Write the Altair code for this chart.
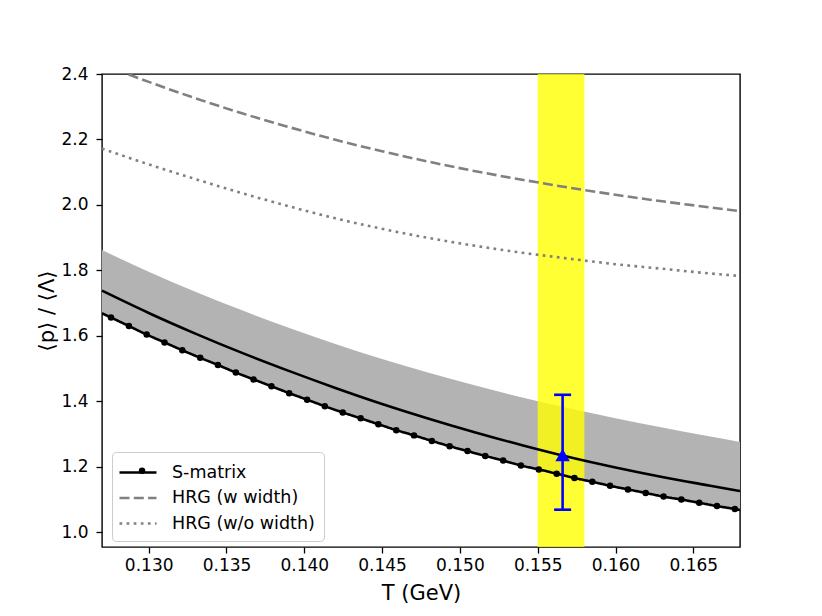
import altair as alt
import pandas as pd

# ---------------- data ----------------
T_grid = [0.127, 0.130, 0.133, 0.136, 0.139, 0.142, 0.145, 0.148,
          0.151, 0.154, 0.157, 0.160, 0.163, 0.166, 0.168]
hrg_w = [2.430, 2.376, 2.326, 2.280, 2.238, 2.199, 2.164, 2.132,
         2.103, 2.077, 2.053, 2.031, 2.011, 1.993, 1.981]
hrg_wo = [2.172, 2.124, 2.079, 2.036, 1.996, 1.959, 1.927, 1.899,
          1.875, 1.854, 1.836, 1.819, 1.805, 1.791, 1.783]
smat_central = [1.738, 1.670, 1.607, 1.548, 1.493, 1.441, 1.392, 1.347,
                1.305, 1.266, 1.230, 1.198, 1.169, 1.143, 1.126]
band_upper = [1.862, 1.796, 1.735, 1.678, 1.625, 1.5755, 1.5295, 1.487,
              1.448, 1.412, 1.379, 1.3485, 1.320, 1.293, 1.276]
band_lower = [1.669, 1.601, 1.539, 1.481, 1.426, 1.374, 1.327, 1.283,
              1.242, 1.205, 1.170, 1.139, 1.110, 1.0845, 1.068]

smat_T = [0.12758, 0.12873, 0.12987, 0.13102, 0.13216, 0.13331, 0.13445,
          0.13560, 0.13674, 0.13789, 0.13903, 0.14018, 0.14132, 0.14247,
          0.14362, 0.14476, 0.14591, 0.14705, 0.14820, 0.14934, 0.15049,
          0.15163, 0.15278, 0.15392, 0.15507, 0.15622, 0.15736, 0.15851,
          0.15965, 0.16080, 0.16194, 0.16309, 0.16423, 0.16538, 0.16652,
          0.16767]
smat_val = [1.656, 1.630, 1.604, 1.580, 1.556, 1.533, 1.511, 1.488, 1.467,
            1.446, 1.425, 1.405, 1.385, 1.366, 1.348, 1.330, 1.312, 1.296,
            1.279, 1.263, 1.248, 1.233, 1.219, 1.204, 1.192, 1.179, 1.166,
            1.154, 1.142, 1.131, 1.120, 1.109, 1.100, 1.090, 1.080, 1.071]
smat_edge_T = [0.127, 0.168]
smat_edge_val = [1.669, 1.068]

yellow_lo = [0.155]
yellow_hi = [0.158]

exp_T = [0.1566]
exp_val = [1.236]
exp_lo = [1.069]
exp_hi = [1.420]

series_names = ["S-matrix", "HRG (w width)", "HRG (w/o width)"]
series_colors = ["black", "gray", "gray"]
series_dash = [[1, 0], [10, 4.3], [2.7, 4.4]]

# ---------------- tables ----------------
grid_df = pd.DataFrame({"T": T_grid, "upper": band_upper, "lower": band_lower,
                        "central": smat_central})
long_rows = []
for t, v in zip(smat_edge_T + smat_T, smat_edge_val + smat_val):
    long_rows.append({"T": t, "val": v, "series": series_names[0]})
for t, v in zip(T_grid, hrg_w):
    long_rows.append({"T": t, "val": v, "series": series_names[1]})
for t, v in zip(T_grid, hrg_wo):
    long_rows.append({"T": t, "val": v, "series": series_names[2]})
lines_df = pd.DataFrame(long_rows)
marker_df = pd.DataFrame({"T": smat_T, "val": smat_val,
                          "mk": [series_names[0]] * len(smat_T)})
yellow_df = pd.DataFrame({"lo": yellow_lo, "hi": yellow_hi})
exp_df = pd.DataFrame({"T": exp_T, "val": exp_val, "lo": exp_lo, "hi": exp_hi})
cap_df = pd.DataFrame({"T": exp_T + exp_T, "val": exp_lo + exp_hi})

# ---------------- scales / axes ----------------
xs = alt.Scale(domain=[0.127, 0.168], nice=False, zero=False)
ys = alt.Scale(domain=[0.955, 2.4], nice=False, zero=False)
x_ticks = [0.130, 0.135, 0.140, 0.145, 0.150, 0.155, 0.160, 0.165]
y_ticks = [1.0, 1.2, 1.4, 1.6, 1.8, 2.0, 2.2, 2.4]

x_axis = alt.Axis(values=x_ticks, format=".3f", title="T (GeV)",
                  labelPadding=4, titlePadding=9)
y_axis = alt.Axis(values=y_ticks, format=".1f", title="⟨p⟩ / ⟨Λ⟩",
                  labelPadding=8, titlePadding=3)

X = alt.X("T:Q", scale=xs, axis=x_axis)

line_path = "M-1.85,0H1.85"
legend = alt.Legend(
    title=None, orient="none", legendX=10, legendY=378,
    symbolType=line_path, symbolSize=400, symbolStrokeWidth=2.6,
    symbolOffset=5.5, labelOffset=22.5, labelFontSize=17.5, labelColor="black",
    labelFont="DejaVu Sans", padding=9, rowPadding=5.5,
    fillColor="white", strokeColor="#cccccc", cornerRadius=4,
)
dot_legend = alt.Legend(
    title=None, orient="none", legendX=10, legendY=379,
    symbolType="circle", symbolSize=42, symbolStrokeWidth=0,
    symbolOffset=12.3, labelFontSize=17.5, labelExpr="''",
    padding=9, rowPadding=5.5, zindex=2,
)

band = alt.Chart(grid_df).mark_area(color="#b3b3b3", opacity=1,
                                    interpolate="monotone").encode(
    x=X, y=alt.Y("upper:Q", scale=ys, axis=y_axis), y2="lower:Q")

yellow = alt.Chart(yellow_df).mark_rect(color="yellow", opacity=0.8).encode(
    x=alt.X("lo:Q", scale=xs), x2="hi:Q")

central = alt.Chart(grid_df).mark_line(color="black", strokeWidth=2.6,
                                       interpolate="monotone").encode(
    x=alt.X("T:Q", scale=xs), y=alt.Y("central:Q", scale=ys))

lines = alt.Chart(lines_df).mark_line(strokeWidth=2.6, clip=True,
                                      interpolate="monotone").encode(
    x=alt.X("T:Q", scale=xs), y=alt.Y("val:Q", scale=ys),
    color=alt.Color("series:N", scale=alt.Scale(domain=series_names,
                                                range=series_colors),
                    legend=legend),
    strokeDash=alt.StrokeDash("series:N", scale=alt.Scale(domain=series_names,
                                                          range=series_dash),
                              legend=legend),
)

markers = alt.Chart(marker_df).mark_point(color="black", size=42, filled=True,
                                          opacity=1).encode(
    x=alt.X("T:Q", scale=xs), y=alt.Y("val:Q", scale=ys),
    shape=alt.Shape("mk:N", scale=alt.Scale(domain=[series_names[0]],
                                            range=["circle"]),
                    legend=dot_legend))

err_rule = alt.Chart(exp_df).mark_rule(color="blue", strokeWidth=2.6).encode(
    x=alt.X("T:Q", scale=xs), y=alt.Y("lo:Q", scale=ys), y2="hi:Q")
caps = alt.Chart(cap_df).mark_tick(color="blue", thickness=2.6, size=17,
                                   orient="horizontal", opacity=1).encode(
    x=alt.X("T:Q", scale=xs), y=alt.Y("val:Q", scale=ys))
tri = alt.Chart(exp_df).mark_point(shape="triangle-up", filled=True,
                                   color="blue", size=210, opacity=1).encode(
    x=alt.X("T:Q", scale=xs), y=alt.Y("val:Q", scale=ys))

chart = alt.layer(band, yellow, central, lines, markers, err_rule, caps, tri).properties(
    width=638, height=473,
    autosize=alt.AutoSizeParams(type="none"),
    padding={"left": 94, "top": 66, "right": 60, "bottom": 66},
).resolve_legend(shape="independent", color="shared").configure(
    font="DejaVu Sans"
).configure_view(
    stroke="black", strokeWidth=1.4
).configure_axis(
    domain=False, grid=False, tickColor="black", tickSize=6, tickWidth=1.3,
    labelFontSize=17, labelColor="black", labelFont="DejaVu Sans",
    titleFontSize=21, titleFontWeight="normal", titleColor="black",
    titleFont="DejaVu Sans",
)

chart.save("out.html", embed_options={"renderer": "svg", "actions": False})
